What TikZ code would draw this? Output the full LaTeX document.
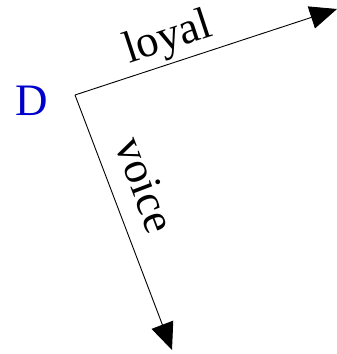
\documentclass[tikz,border=0pt]{standalone}
\usepackage{fontspec}
\setmainfont{Liberation Serif}
\usetikzlibrary{arrows.meta}
\definecolor{dblue}{RGB}{0,0,204}
\begin{document}
\begin{tikzpicture}[x=1pt,y=-1pt,
  arr/.style={draw, line width=0.9pt, -{Triangle[length=27pt,width=23pt]}},
  lbl/.style={font=\fontsize{45}{52}\selectfont, inner sep=0pt}]
\useasboundingbox (0,0) rectangle (337,354);
\coordinate (o) at (75,95);
\coordinate (l) at (337,9);
\coordinate (v) at (172,350);
\node[lbl, text=dblue] (d) at (32,101) {D};
\draw[arr] (o) -- node[lbl, sloped, above=3pt, pos=0.385] (loyal) {loyal} (l);
\draw[arr] (o) -- node[lbl, sloped, above=18pt, pos=0.40] (voice) {voice} (v);
\end{tikzpicture}
\end{document}
